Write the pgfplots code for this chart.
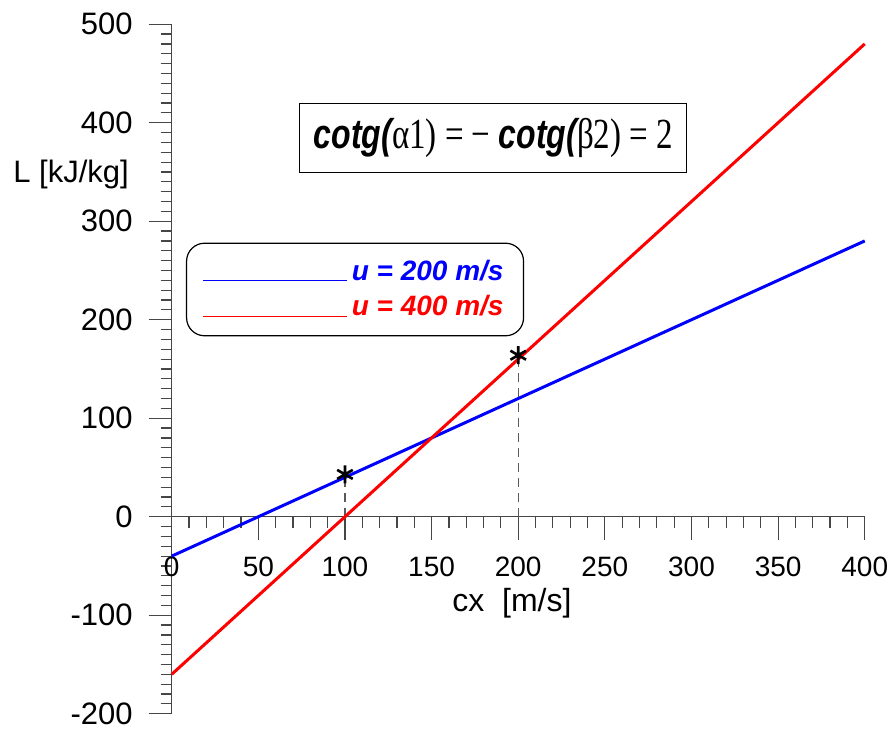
\documentclass[border=0pt]{standalone}
\usepackage{fontspec}
\setmainfont{Liberation Sans}
\newfontfamily\seriffont{Liberation Serif}
\usepackage{graphicx}
\usepackage{pgfplots}
\pgfplotsset{compat=1.18}
\definecolor{axisgray}{RGB}{70,70,70}
\definecolor{dashgray}{RGB}{90,90,90}
\begin{document}
\begin{tikzpicture}
\begin{axis}[
  x=0.86625pt, y=0.4925pt,
  xmin=0, xmax=400, ymin=-200, ymax=500,
  axis lines=middle,
  hide obscured x ticks=false, hide obscured y ticks=false,
  axis line style={-, line width=0.6pt, color=axisgray},
  clip=false,
  xtick={0,50,...,400}, ytick={-200,-100,...,500},
  minor x tick num=4, minor y tick num=9,
  tick align=outside,
  major tick length=11.5pt, minor tick length=5.5pt,
  every tick/.style={line width=0.6pt, color=axisgray},
  /pgf/number format/assume math mode=true,
  xticklabel style={font=\fontsize{14}{16}\selectfont, anchor=north, inner sep=0pt, yshift=-8.5pt},
  yticklabel style={font=\fontsize{15.5}{18}\selectfont, anchor=east, inner sep=0pt, xshift=-7.8pt},
  xlabel={cx\ \ [m/s]}, ylabel={L [kJ/kg]},
  every axis x label/.style={at={(axis description cs:0.4045,0.1477)}, anchor=base west, font=\fontsize{16}{19}\selectfont, inner sep=0pt},
  every axis y label/.style={at={(axis description cs:-0.229,0.770)}, anchor=base west, font=\fontsize{15.5}{18}\selectfont, inner sep=0pt},
  legend style={at={(axis cs:8.25,278.3)}, anchor=north west, draw=black, line width=0.6pt, rounded corners=9pt,
    font=\fontsize{14}{16}\selectfont\bfseries\itshape, inner xsep=8pt, inner ysep=6.5pt, row sep=2pt},
]
\addplot[dashgray, line width=0.6pt, dash pattern=on 4.5pt off 3pt, forget plot] coordinates {(100,0) (100,36)};
\addplot[dashgray, line width=0.6pt, dash pattern=on 4.5pt off 3pt, forget plot] coordinates {(200,0) (200,155)};
\addplot[blue, line width=1.5pt, legend image code/.code={\draw[blue, line width=0.6pt] (0pt,-4.5pt) -- (72pt,-4.5pt);}] coordinates {(0,-40) (400,280)};
\addlegendentry{\textcolor{blue}{u = 200 m/s}}
\addplot[red, line width=1.5pt, legend image code/.code={\draw[red, line width=0.6pt] (0pt,-4.5pt) -- (72pt,-4.5pt);}] coordinates {(0,-160) (400,480)};
\addlegendentry{\textcolor{red}{u = 400 m/s}}
\addplot[only marks, mark=asterisk, mark size=4.5pt, black, line width=1.3pt, forget plot] coordinates {(100,43) (200,164)};
\node[draw, line width=0.5pt, minimum width=193.5pt, minimum height=34.5pt, inner sep=0pt] at (axis cs:185.7,384.2)
  {\scalebox{1}[1.3]{{\fontsize{16}{19}\selectfont\bfseries\itshape cotg(}{\seriffont\fontsize{16.5}{19}\selectfont α1) = − }{\fontsize{16}{19}\selectfont\bfseries\itshape cotg(}{\seriffont\fontsize{16.5}{19}\selectfont β2) = 2}}};
\coordinate (bbsw) at (axis cs:-99.1,-214.5);
\coordinate (bbne) at (axis cs:414,524.6);
\end{axis}
\pgfresetboundingbox
\path[use as bounding box] (bbsw) rectangle (bbne);
\end{tikzpicture}
\end{document}
